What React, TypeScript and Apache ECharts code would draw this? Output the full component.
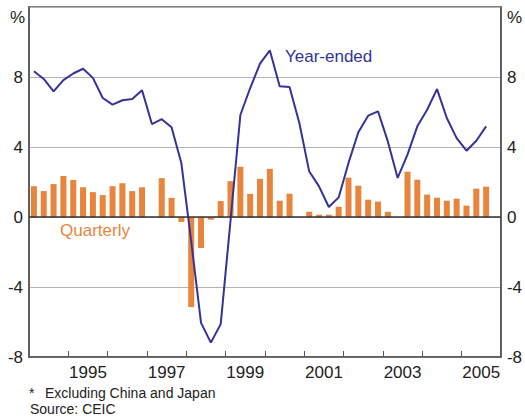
import React, { useEffect, useRef } from "react";
import * as echarts from "echarts";

// Quarters 1994Q1 .. 2005Q3
const years = [1994, 1995, 1996, 1997, 1998, 1999, 2000, 2001, 2002, 2003, 2004, 2005];
const quarterly = [
  1.76, 1.48, 1.88, 2.34,
  2.11, 1.70, 1.42, 1.25,
  1.76, 1.93, 1.48, 1.70,
  0.0, 2.22, 1.09, -0.28,
  -5.15, -1.77, -0.15, 0.91,
  2.05, 2.87, 1.32, 2.18,
  2.75, 0.93, 1.33, 0.0,
  0.30, 0.13, 0.13, 0.59,
  2.25, 1.79, 0.99, 0.88,
  0.30, 0.0, 2.59, 2.13,
  1.28, 1.10, 0.93, 1.05,
  0.65, 1.62, 1.73,
];
const yearEnded = [
  8.33, 7.89, 7.18, 7.82,
  8.20, 8.47, 7.95, 6.80,
  6.42, 6.67, 6.74, 7.24,
  5.31, 5.59, 5.13, 3.07,
  -1.4, -6.05, -7.18, -6.12,
  -0.2, 5.83, 7.37, 8.76,
  9.52, 7.47, 7.43, 5.37,
  2.61, 1.75, 0.57, 1.12,
  3.09, 4.84, 5.79, 6.04,
  4.32, 2.23, 3.56, 5.18,
  6.13, 7.31, 5.66, 4.51,
  3.79, 4.36, 5.18,
];
const yTicks = [-8, -4, 0, 4, 8, 12];
const xLabelYears = [1995, 1997, 1999, 2001, 2003, 2005];
const tickYears = [1995, 1996, 1997, 1998, 1999, 2000, 2001, 2002, 2003, 2004, 2005];

const BLUE = "#333399";
const ORANGE = "#e8843c";
const FONT = "Liberation Sans, Arial, sans-serif";

export default function App() {
  const ref = useRef<HTMLDivElement>(null);
  useEffect(() => {
    if (!ref.current) return;
    const chart = echarts.init(ref.current, null, { renderer: "svg" });
    const xs: number[] = [];
    years.forEach((y) => [0, 1, 2, 3].forEach((q) => xs.push(y + (q + 0.5) / 4)));
    const barData = quarterly.map((v, i) => [xs[i], v]);
    const lineData = yearEnded.map((v, i) => [xs[i], v]);
    const yAxisBase = {
      type: "value",
      min: yTicks[0],
      max: yTicks[yTicks.length - 1],
      interval: 4,
      axisLine: { show: true, lineStyle: { color: "#555", width: 1.5 } },
      axisTick: { show: false },
      axisLabel: {
        fontSize: 17,
        fontFamily: FONT,
        color: "#222",
        margin: 6,
        formatter: (v: number) => (v === 12 ? "" : String(v)),
      },
    };
    chart.setOption({
      animation: false,
      grid: {
        left: 29,
        right: 24,
        top: 7,
        bottom: 61,
        show: true,
        borderColor: "#555",
        borderWidth: 1.5,
      },
      xAxis: {
        type: "value",
        min: 1994,
        max: 2006,
        interval: 1,
        axisLine: { show: true, onZero: false, lineStyle: { color: "#555", width: 1.5 } },
        axisTick: {
          show: true,
          inside: true,
          length: 6,
          customValues: tickYears,
          lineStyle: { color: "#555" },
        },
        splitLine: { show: false },
        axisLabel: {
          fontSize: 17,
          fontFamily: FONT,
          color: "#222",
          margin: 7,
          customValues: xLabelYears.map((y) => y + 0.5),
          formatter: (v: number) => String(Math.floor(v)),
        },
      },
      yAxis: [
        {
          ...yAxisBase,
          position: "left",
          splitLine: { show: true, lineStyle: { color: "#b4b4b4", width: 1 } },
        },
        {
          ...yAxisBase,
          position: "right",
          splitLine: { show: false },
        },
      ],
      series: [
        {
          type: "bar",
          data: barData,
          barWidth: 6,
          itemStyle: { color: ORANGE },
          markLine: {
            silent: true,
            symbol: "none",
            label: { show: false },
            lineStyle: { color: "#333", width: 1.5, type: "solid" },
            data: [{ yAxis: 0 }],
          },
          z: 2,
        },
        {
          type: "line",
          data: lineData,
          showSymbol: false,
          symbol: "none",
          lineStyle: { color: BLUE, width: 2 },
          z: 3,
        },
      ],
      graphic: [
        { type: "text", left: 10, top: 9, style: { text: "%", font: `17px ${FONT}`, fill: "#222" } },
        { type: "text", left: 507, top: 9, style: { text: "%", font: `17px ${FONT}`, fill: "#222" } },
        { type: "text", left: 285, top: 48, style: { text: "Year-ended", font: `17px ${FONT}`, fill: BLUE } },
        { type: "text", left: 60, top: 222, style: { text: "Quarterly", font: `17px ${FONT}`, fill: ORANGE } },
        { type: "text", left: 29, top: 386, style: { text: "*", font: `14px ${FONT}`, fill: "#222" } },
        { type: "text", left: 45, top: 386, style: { text: "Excluding China and Japan", font: `14px ${FONT}`, fill: "#222" } },
        { type: "text", left: 30, top: 402, style: { text: "Source: CEIC", font: `14px ${FONT}`, fill: "#222" } },
      ],
    });
    return () => chart.dispose();
  }, []);
  return (
    <div
      ref={ref}
      style={{ width: 525, height: 418, position: "absolute", left: 0, top: 0, background: "#fff" }}
    />
  );
}
